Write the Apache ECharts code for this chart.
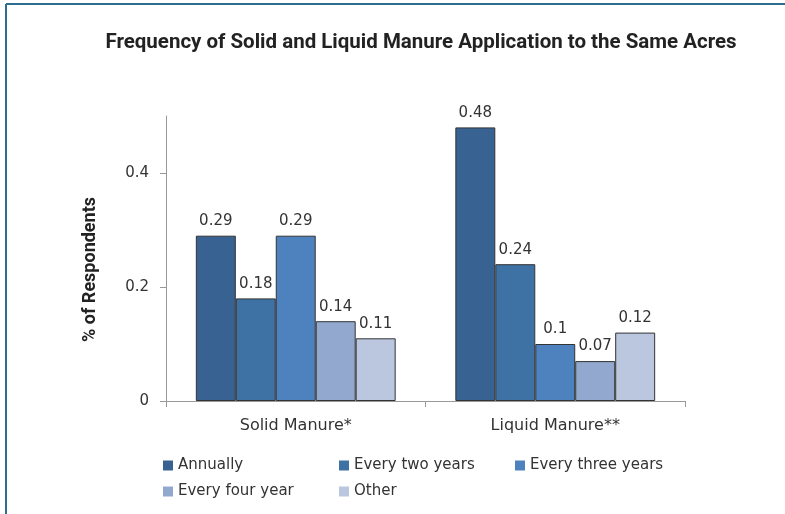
<!DOCTYPE html>
<html>
<head>
<meta charset="utf-8">
<script src="https://cdn.jsdelivr.net/npm/echarts@6/dist/echarts.min.js"></script>
<style>
  html, body { margin: 0; padding: 0; background: #fff; }
  #chart { width: 785px; height: 514px; }
</style>
</head>
<body>
<div id="chart"></div>
<script>
const categories = ['Solid Manure*', 'Liquid Manure**'];
const seriesNames = ['Annually', 'Every two years', 'Every three years', 'Every four year', 'Other'];
const seriesValues = [
  [0.29, 0.48],
  [0.18, 0.24],
  [0.29, 0.1],
  [0.14, 0.07],
  [0.11, 0.12]
];
const yTicks = [0, 0.2, 0.4];

const colors = ['#386291', '#3e71a4', '#4d82bf', '#93a8cf', '#bbc6df'];
const boldFont = 'Roboto, "DejaVu Sans", sans-serif';
const font = '"DejaVu Sans", sans-serif';
const textColor = '#333';

const chart = echarts.init(document.getElementById('chart'));

const series = seriesNames.map((name, i) => ({
  name: name,
  type: 'bar',
  data: seriesValues[i],
  barGap: '0%',
  barCategoryGap: '23%',
  itemStyle: {
    color: colors[i],
    borderColor: '#333',
    borderWidth: 1
  },
  label: {
    show: true,
    position: 'top',
    distance: 7,
    color: textColor,
    fontFamily: font,
    fontSize: 15
  }
}));

const legendBase = {
  orient: 'vertical',
  icon: 'rect',
  itemWidth: 10,
  itemHeight: 10,
  itemGap: 11,
  top: 458,
  padding: 0,
  itemStyle: { borderWidth: 0 },
  textStyle: { color: textColor, fontFamily: font, fontSize: 15 },
  selectedMode: false
};

chart.setOption({
  animation: false,
  color: colors,
  title: {
    text: 'Frequency of Solid and Liquid Manure Application to the Same Acres',
    left: 421,
    textAlign: 'center',
    top: 32,
    padding: 0,
    textStyle: { color: '#222', fontFamily: boldFont, fontWeight: 'bold', fontSize: 20.5 }
  },
  graphic: [
    { type: 'line', shape: { x1: 6, y1: 4, x2: 785, y2: 4 }, style: { stroke: '#2b6e8e', lineWidth: 2 } },
    { type: 'line', shape: { x1: 6, y1: 4, x2: 6, y2: 514 }, style: { stroke: '#2b6e8e', lineWidth: 2 } }
  ],
  legend: [
    Object.assign({}, legendBase, { left: 163, data: [seriesNames[0], seriesNames[3]] }),
    Object.assign({}, legendBase, { left: 339, data: [seriesNames[1], seriesNames[4]] }),
    Object.assign({}, legendBase, { left: 515, data: [seriesNames[2]] })
  ],
  grid: { left: 166, right: 100, top: 116, bottom: 113 },
  xAxis: {
    type: 'category',
    data: categories,
    axisLine: { lineStyle: { color: '#999' } },
    axisTick: { show: true, length: 6, lineStyle: { color: '#999' } },
    axisLabel: { color: textColor, fontFamily: font, fontSize: 16, margin: 17 }
  },
  yAxis: {
    type: 'value',
    min: 0,
    max: 0.5,
    interval: 0.1,
    name: '% of Respondents',
    nameLocation: 'middle',
    nameGap: 67,
    nameTextStyle: { color: '#222', fontFamily: boldFont, fontWeight: 'bold', fontSize: 18, padding: [0, 22, 0, 0] },
    axisLine: { show: true, lineStyle: { color: '#999' } },
    axisTick: { show: true, length: 6, lineStyle: { color: '#999' }, customValues: yTicks },
    axisLabel: { color: textColor, fontFamily: font, fontSize: 15, margin: 17, customValues: yTicks },
    splitLine: { show: false }
  },
  series: series
});
</script>
</body>
</html>
